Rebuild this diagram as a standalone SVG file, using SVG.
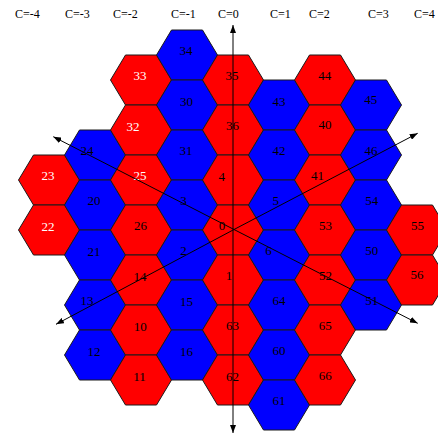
<svg xmlns="http://www.w3.org/2000/svg" xmlns:xlink="http://www.w3.org/1999/xlink" width="438" height="443" viewBox="0 0 438 443">
  <style>
    .r { fill: #ff0000; }
    .b { fill: #0000ff; }
    .cell { stroke: #1a1a1a; stroke-width: 1; }
    .lbl { font-family: "Liberation Serif", "Times New Roman", serif; font-size: 13px; text-anchor: middle; fill: #000; }
    .lbl.w { fill: #ffffff; }
    .col { font-family: "Liberation Serif", "Times New Roman", serif; font-size: 12px; fill: #000; }
    .axis { stroke: #000; stroke-width: 1; fill: none; marker-end: url(#tip); }
  </style>
  <defs>
    <!-- flat-topped hexagon centred on the origin -->
    <polygon id="hex" class="cell" points="-30.5,0 -15.5,-25 15.5,-25 30.5,0 15.5,25 -15.5,25"/>
    <marker id="tip" markerUnits="userSpaceOnUse" markerWidth="9" markerHeight="6" refX="8" refY="3" orient="auto">
      <path d="M0,0 L8,3 L0,6 z" fill="#000"/>
    </marker>
  </defs>

  <rect width="438" height="443" fill="#ffffff"/>

  <!-- column headings -->
  <g id="columns">
    <text class="col" x="15" y="18">C=-4</text>
    <text class="col" x="65" y="18">C=-3</text>
    <text class="col" x="113" y="18">C=-2</text>
    <text class="col" x="171" y="18">C=-1</text>
    <text class="col" x="218" y="18">C=0</text>
    <text class="col" x="270" y="18">C=1</text>
    <text class="col" x="309" y="18">C=2</text>
    <text class="col" x="368" y="18">C=3</text>
    <text class="col" x="414" y="18">C=4</text>
  </g>

  <!-- column C=-4 -->
  <g id="n23"><use xlink:href="#hex" href="#hex" class="r" x="49" y="180"/><text class="lbl w" x="48" y="180">23</text></g>
  <g id="n22"><use xlink:href="#hex" href="#hex" class="r" x="49" y="230"/><text class="lbl w" x="48" y="230.5">22</text></g>

  <!-- column C=-3 -->
  <g id="n24"><use xlink:href="#hex" href="#hex" class="b" x="95" y="155"/><text class="lbl" x="87" y="155">24</text></g>
  <g id="n20"><use xlink:href="#hex" href="#hex" class="b" x="95" y="205"/><text class="lbl" x="94" y="205">20</text></g>
  <g id="n21"><use xlink:href="#hex" href="#hex" class="b" x="95" y="255"/><text class="lbl" x="94" y="256">21</text></g>
  <g id="n13"><use xlink:href="#hex" href="#hex" class="b" x="95" y="305"/><text class="lbl" x="87" y="305">13</text></g>
  <g id="n12"><use xlink:href="#hex" href="#hex" class="b" x="95" y="355"/><text class="lbl" x="94" y="356">12</text></g>

  <!-- column C=-2 -->
  <g id="n33"><use xlink:href="#hex" href="#hex" class="r" x="141" y="80"/><text class="lbl w" x="140" y="80">33</text></g>
  <g id="n32"><use xlink:href="#hex" href="#hex" class="r" x="141" y="130"/><text class="lbl w" x="133" y="131">32</text></g>
  <g id="n25"><use xlink:href="#hex" href="#hex" class="r" x="141" y="180"/><text class="lbl w" x="140" y="180">25</text></g>
  <g id="n26"><use xlink:href="#hex" href="#hex" class="r" x="141" y="230"/><text class="lbl" x="140.5" y="230">26</text></g>
  <g id="n14"><use xlink:href="#hex" href="#hex" class="r" x="141" y="280"/><text class="lbl" x="140" y="280.5">14</text></g>
  <g id="n10"><use xlink:href="#hex" href="#hex" class="r" x="141" y="330"/><text class="lbl" x="140.3" y="330.5">10</text></g>
  <g id="n11"><use xlink:href="#hex" href="#hex" class="r" x="141" y="380"/><text class="lbl" x="139.5" y="380.5">11</text></g>

  <!-- column C=-1 -->
  <g id="n34"><use xlink:href="#hex" href="#hex" class="b" x="187" y="55"/><text class="lbl" x="186" y="55">34</text></g>
  <g id="n30"><use xlink:href="#hex" href="#hex" class="b" x="187" y="105"/><text class="lbl" x="186.5" y="106">30</text></g>
  <g id="n31"><use xlink:href="#hex" href="#hex" class="b" x="187" y="155"/><text class="lbl" x="186" y="155">31</text></g>
  <g id="n3"><use xlink:href="#hex" href="#hex" class="b" x="187" y="205"/><text class="lbl" x="183.5" y="205">3</text></g>
  <g id="n2"><use xlink:href="#hex" href="#hex" class="b" x="187" y="255"/><text class="lbl" x="183.5" y="255">2</text></g>
  <g id="n15"><use xlink:href="#hex" href="#hex" class="b" x="187" y="305"/><text class="lbl" x="186.5" y="305.5">15</text></g>
  <g id="n16"><use xlink:href="#hex" href="#hex" class="b" x="187" y="355"/><text class="lbl" x="186.5" y="356">16</text></g>

  <!-- column C=0 -->
  <g id="n35"><use xlink:href="#hex" href="#hex" class="r" x="233" y="80"/><text class="lbl" x="232" y="80">35</text></g>
  <g id="n36"><use xlink:href="#hex" href="#hex" class="r" x="233" y="130"/><text class="lbl" x="232.5" y="129.5">36</text></g>
  <g id="n4"><use xlink:href="#hex" href="#hex" class="r" x="233" y="180"/><text class="lbl" x="221.7" y="180.5">4</text></g>
  <g id="n0"><use xlink:href="#hex" href="#hex" class="r" x="233" y="230"/><text class="lbl" x="222" y="230">0</text></g>
  <g id="n1"><use xlink:href="#hex" href="#hex" class="r" x="233" y="280"/><text class="lbl" x="229" y="280">1</text></g>
  <g id="n63"><use xlink:href="#hex" href="#hex" class="r" x="233" y="330"/><text class="lbl" x="232.5" y="330">63</text></g>
  <g id="n62"><use xlink:href="#hex" href="#hex" class="r" x="233" y="380"/><text class="lbl" x="232.5" y="380.5">62</text></g>

  <!-- column C=1 -->
  <g id="n43"><use xlink:href="#hex" href="#hex" class="b" x="279" y="105"/><text class="lbl" x="279" y="106">43</text></g>
  <g id="n42"><use xlink:href="#hex" href="#hex" class="b" x="279" y="155"/><text class="lbl" x="279" y="155">42</text></g>
  <g id="n5"><use xlink:href="#hex" href="#hex" class="b" x="279" y="205"/><text class="lbl" x="275.7" y="205">5</text></g>
  <g id="n6"><use xlink:href="#hex" href="#hex" class="b" x="279" y="255"/><text class="lbl" x="268.5" y="255">6</text></g>
  <g id="n64"><use xlink:href="#hex" href="#hex" class="b" x="279" y="305"/><text class="lbl" x="279" y="305">64</text></g>
  <g id="n60"><use xlink:href="#hex" href="#hex" class="b" x="279" y="355"/><text class="lbl" x="279" y="355">60</text></g>
  <g id="n61"><use xlink:href="#hex" href="#hex" class="b" x="279" y="405"/><text class="lbl" x="279" y="405">61</text></g>

  <!-- column C=2 -->
  <g id="n44"><use xlink:href="#hex" href="#hex" class="r" x="325" y="80"/><text class="lbl" x="324.7" y="79.5">44</text></g>
  <g id="n40"><use xlink:href="#hex" href="#hex" class="r" x="325" y="130"/><text class="lbl" x="325" y="129">40</text></g>
  <g id="n41"><use xlink:href="#hex" href="#hex" class="r" x="325" y="180"/><text class="lbl" x="317.5" y="180">41</text></g>
  <g id="n53"><use xlink:href="#hex" href="#hex" class="r" x="325" y="230"/><text class="lbl" x="325.5" y="230">53</text></g>
  <g id="n52"><use xlink:href="#hex" href="#hex" class="r" x="325" y="280"/><text class="lbl" x="325.5" y="280">52</text></g>
  <g id="n65"><use xlink:href="#hex" href="#hex" class="r" x="325" y="330"/><text class="lbl" x="325.3" y="330">65</text></g>
  <g id="n66"><use xlink:href="#hex" href="#hex" class="r" x="325" y="380"/><text class="lbl" x="325.3" y="380">66</text></g>

  <!-- column C=3 -->
  <g id="n45"><use xlink:href="#hex" href="#hex" class="b" x="371" y="105"/><text class="lbl" x="370.8" y="104">45</text></g>
  <g id="n46"><use xlink:href="#hex" href="#hex" class="b" x="371" y="155"/><text class="lbl" x="371" y="155">46</text></g>
  <g id="n54"><use xlink:href="#hex" href="#hex" class="b" x="371" y="205"/><text class="lbl" x="371.7" y="205">54</text></g>
  <g id="n50"><use xlink:href="#hex" href="#hex" class="b" x="371" y="255"/><text class="lbl" x="371.7" y="255">50</text></g>
  <g id="n51"><use xlink:href="#hex" href="#hex" class="b" x="371" y="305"/><text class="lbl" x="371.7" y="305">51</text></g>

  <!-- column C=4 (clipped by the right edge) -->
  <g id="n55"><use xlink:href="#hex" href="#hex" class="r" x="417" y="230"/><text class="lbl" x="417.5" y="230">55</text></g>
  <g id="n56"><use xlink:href="#hex" href="#hex" class="r" x="417" y="280"/><text class="lbl" x="417" y="279">56</text></g>

  <!-- axes through the centre cell -->
  <g id="connectors">
    <line class="axis" x1="233" y1="230" x2="233" y2="25"/>
    <line class="axis" x1="233" y1="230" x2="233" y2="433"/>
    <line class="axis" x1="234" y1="229.5" x2="53.3" y2="136.7"/>
    <line class="axis" x1="234" y1="229.5" x2="417.7" y2="323.3"/>
    <line class="axis" x1="234" y1="229.5" x2="56" y2="324.3"/>
    <line class="axis" x1="234" y1="229.5" x2="417.7" y2="133.3"/>
  </g>
</svg>
